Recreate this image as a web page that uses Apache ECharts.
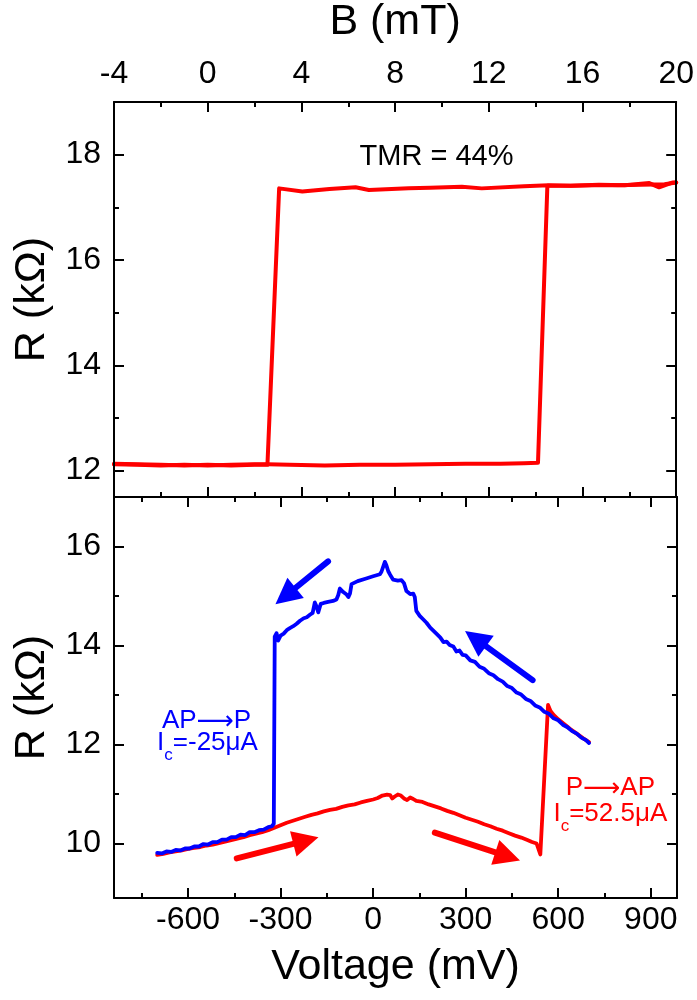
<!DOCTYPE html>
<html>
<head>
<meta charset="utf-8">
<script src="https://cdn.jsdelivr.net/npm/echarts@6/dist/echarts.min.js"></script>
<style>
  html, body { margin: 0; padding: 0; background: #fff; }
  #chart { width: 697px; height: 1000px; }
</style>
</head>
<body>
<div id="chart"></div>
<script>
// ---- Upper panel: resistance loop versus field B (mT) ----
const bUp = [-4, -3, -2, -1, 0, 1, 2, 2.55, 3.5, 5, 6.5, 8, 9.5, 11, 12.5, 13.5, 14.1, 14.5, 15.5, 16.7, 17.8, 18.85, 19.27, 19.83, 20];
const rUp = [12.12, 12.11, 12.10, 12.11, 12.10, 12.11, 12.12, 12.12, 12.11, 12.10, 12.11, 12.11, 12.12, 12.13, 12.13, 12.14, 12.15, 17.41, 17.41, 17.43, 17.42, 17.46, 17.38, 17.47, 17.47];
const bDown = [20, 19.5, 18.5, 17.5, 16.5, 15.5, 14.55, 13.5, 11.7, 10.85, 9.5, 8.58, 6.88, 6.31, 5.2, 4.04, 3.05, 2.55, 2, 1, 0, -1, -2, -3, -4];
const rDown = [17.47, 17.44, 17.43, 17.42, 17.42, 17.41, 17.42, 17.40, 17.36, 17.39, 17.37, 17.36, 17.33, 17.38, 17.35, 17.30, 17.36, 12.11, 12.11, 12.10, 12.11, 12.10, 12.11, 12.12, 12.13];

// ---- Lower panel: resistance versus bias voltage (mV) ----
// P -> AP sweep (increasing voltage)
const vRed = [
  -700, -680, -660, -640, -620, -600, -580, -560, -540, -520,
  -500, -480, -460, -440, -420, -400, -380, -360, -340, -320,
  -300, -280, -260, -240, -220, -200, -180, -160, -140, -120,
  -100, -80, -60, -40, -20, 0, 15, 30, 45, 55,
  62, 70, 80, 90, 100, 110, 120, 130, 140, 160,
  180, 200, 220, 240, 260, 280, 300, 320, 340, 360,
  380, 400, 420, 440, 460, 480, 500, 515, 530, 542,
  567, 575, 585, 600, 620, 640, 660, 680, 700
];
const rRed = [
  9.77, 9.79, 9.82, 9.84, 9.86, 9.89, 9.91, 9.93, 9.96, 9.98,
  10.01, 10.04, 10.07, 10.10, 10.13, 10.17, 10.20, 10.23, 10.27, 10.32,
  10.37, 10.42, 10.46, 10.50, 10.54, 10.58, 10.61, 10.65, 10.68, 10.70,
  10.74, 10.77, 10.79, 10.83, 10.86, 10.89, 10.92, 10.97, 10.99, 10.98,
  10.91, 10.95, 10.99, 10.97, 10.91, 10.88, 10.93, 10.90, 10.86, 10.84,
  10.79, 10.75, 10.71, 10.66, 10.62, 10.57, 10.52, 10.48, 10.44, 10.39,
  10.35, 10.30, 10.26, 10.21, 10.16, 10.12, 10.07, 10.03, 10.00, 9.78,
  12.80, 12.68, 12.60, 12.51, 12.41, 12.31, 12.22, 12.13, 12.05
];
// AP -> P sweep (decreasing voltage)
const vBlue = [
  700, 690, 675, 660, 645, 630, 615, 600, 585, 570,
  555, 540, 525, 510, 495, 480, 465, 450, 435, 420,
  405, 390, 375, 360, 345, 330, 315, 300, 290, 280,
  270, 260, 248, 238, 228, 218, 205, 195, 185, 173,
  162, 151, 145, 140, 135, 130, 120, 108, 100, 92,
  80, 65, 55, 49, 43, 38, 33, 27, 22, 0,
  -25, -50, -70, -75, -80, -86, -97, -108, -113, -119,
  -130, -146, -160, -170, -178, -184, -189, -196, -205, -215,
  -225, -237, -248, -259, -270, -280, -290, -300, -308, -313,
  -316, -319, -322, -328, -340, -355, -370, -385, -400, -415,
  -430, -445, -460, -475, -490, -505, -520, -535, -550, -565,
  -580, -595, -610, -625, -640, -655, -670, -685, -700
];
const rBlue = [
  12.03, 12.09, 12.14, 12.22, 12.27, 12.35, 12.40, 12.49, 12.53, 12.62,
  12.66, 12.75, 12.79, 12.88, 12.92, 13.01, 13.05, 13.14, 13.18, 13.27,
  13.32, 13.40, 13.44, 13.53, 13.57, 13.67, 13.70, 13.80, 13.81, 13.90,
  13.88, 13.98, 14.01, 14.08, 14.07, 14.16, 14.24, 14.30, 14.36, 14.46,
  14.53, 14.60, 14.62, 14.70, 14.98, 15.05, 15.04, 15.10, 15.26, 15.32,
  15.31, 15.33, 15.43, 15.50, 15.62, 15.69, 15.60, 15.49, 15.44, 15.40,
  15.35, 15.30, 15.24, 15.05, 14.98, 15.03, 15.08, 15.15, 15.02, 14.93,
  14.90, 14.88, 14.86, 14.84, 14.67, 14.80, 14.87, 14.66, 14.62, 14.57,
  14.55, 14.50, 14.44, 14.39, 14.35, 14.31, 14.24, 14.20, 14.10, 14.25,
  14.28, 14.18, 10.40, 10.35, 10.33, 10.28, 10.27, 10.23, 10.23, 10.17,
  10.18, 10.13, 10.13, 10.08, 10.08, 10.03, 10.03, 9.98, 9.99, 9.94,
  9.94, 9.90, 9.90, 9.86, 9.87, 9.83, 9.84, 9.80, 9.81
];

// Sweep-direction arrows: [startV, startR, endV, endR]
const blueArrows = [[-146, 15.70, -284, 15.00], [517, 13.30, 332, 14.14]];
const redArrows = [[-442, 9.70, -218, 10.06], [200, 10.22, 436, 9.74]];

// Tick values
const bMajor = [-4, 0, 4, 8, 12, 16, 20];
const bMinor = [-2, 2, 6, 10, 14, 18];
const vMajor = [-600, -300, 0, 300, 600, 900];
const vMinor = [-750, -450, -150, 150, 450, 750];
const rTopMajor = [12, 14, 16, 18];
const rTopMinor = [13, 15, 17];
const rBotMajor = [10, 12, 14, 16];
const rBotMinor = [11, 13, 15];

const FONT = '"Liberation Sans", Arial, Helvetica, sans-serif';
const ARROW_FONT = '"DejaVu Sans", sans-serif';
const RED = '#ff0000';
const BLUE = '#0000ff';

function pairs(xs, ys) { return xs.map((x, i) => [x, ys[i]]); }

// One side of a frame: a labelled/major-tick axis plus a minor-tick axis
function axisSide(o) {
  const base = {
    type: 'value', gridIndex: o.grid, position: o.pos, min: o.min, max: o.max,
    splitLine: { show: false }, silent: true, z: 5
  };
  const major = Object.assign({}, base, {
    axisLine: { show: true, onZero: false, lineStyle: { color: '#000', width: 2 } },
    axisTick: { show: true, inside: true, length: 10, lineStyle: { color: '#000', width: 2 }, customValues: o.major },
    axisLabel: {
      show: !!o.labels, customValues: o.major, color: '#000',
      fontFamily: FONT, fontSize: 32, margin: o.margin || 12
    }
  });
  if (o.name) {
    major.name = o.name;
    major.nameLocation = 'middle';
    major.nameGap = o.nameGap;
    major.nameTextStyle = { fontFamily: FONT, fontSize: 43, color: '#000' };
  }
  const minor = Object.assign({}, base, {
    axisLine: { show: false, onZero: false },
    axisTick: { show: true, inside: true, length: 5, lineStyle: { color: '#000', width: 2 }, customValues: o.minor },
    axisLabel: { show: false }
  });
  return [major, minor];
}

const B_MIN = -4, B_MAX = 20;
const V_MIN = -840, V_MAX = 985;
const RT_MIN = 11.5, RT_MAX = 19;
const RB_MIN = 8.9, RB_MAX = 17;

const xAxes = [].concat(
  axisSide({ grid: 0, pos: 'top', min: B_MIN, max: B_MAX, major: bMajor, minor: bMinor, labels: true, margin: 12, name: 'B (mT)', nameGap: 58 }),
  axisSide({ grid: 0, pos: 'bottom', min: B_MIN, max: B_MAX, major: bMajor, minor: bMinor }),
  axisSide({ grid: 1, pos: 'bottom', min: V_MIN, max: V_MAX, major: vMajor, minor: vMinor, labels: true, margin: 6, name: 'Voltage (mV)', nameGap: 48 }),
  axisSide({ grid: 1, pos: 'top', min: V_MIN, max: V_MAX, major: vMajor, minor: vMinor })
);
const yAxes = [].concat(
  axisSide({ grid: 0, pos: 'left', min: RT_MIN, max: RT_MAX, major: rTopMajor, minor: rTopMinor, labels: true, margin: 13, name: 'R (kΩ)', nameGap: 60 }),
  axisSide({ grid: 0, pos: 'right', min: RT_MIN, max: RT_MAX, major: rTopMajor, minor: rTopMinor }),
  axisSide({ grid: 1, pos: 'left', min: RB_MIN, max: RB_MAX, major: rBotMajor, minor: rBotMinor, labels: true, margin: 13, name: 'R (kΩ)', nameGap: 60 }),
  axisSide({ grid: 1, pos: 'right', min: RB_MIN, max: RB_MAX, major: rBotMajor, minor: rBotMinor })
);

function curve(name, xi, yi, data, color, width) {
  return {
    name, type: 'line', xAxisIndex: xi, yAxisIndex: yi, data,
    showSymbol: false, symbol: 'none', smooth: false,
    lineStyle: { color, width, join: 'round', cap: 'round' },
    emphasis: { disabled: true }, silent: true, z: 3
  };
}

function arrowLines(list, color) {
  return {
    silent: true, symbol: ['none', 'triangle'], symbolSize: 26,
    label: { show: false }, emphasis: { disabled: true },
    itemStyle: { color },
    lineStyle: { color, width: 6, type: 'solid', cap: 'round', opacity: 1 },
    data: list.map(a => [{ coord: [a[0], a[1]] }, { coord: [a[2], a[3]] }])
  };
}

const redBias = curve('P→AP', 4, 4, pairs(vRed, rRed), RED, 3.8);
redBias.markLine = arrowLines(redArrows, RED);
const blueBias = curve('AP→P', 4, 4, pairs(vBlue, rBlue), BLUE, 3.8);
blueBias.markLine = arrowLines(blueArrows, BLUE);

const option = {
  animation: false,
  backgroundColor: '#fff',
  grid: [
    { left: 114, top: 102, width: 563, height: 395 },
    { left: 114, top: 497, width: 563, height: 401 }
  ],
  xAxis: xAxes,
  yAxis: yAxes,
  series: [
    curve('sweep up', 0, 0, pairs(bUp, rUp), RED, 4),
    curve('sweep down', 0, 0, pairs(bDown, rDown), RED, 4),
    redBias,
    blueBias
  ]
};

const chart = echarts.init(document.getElementById('chart'), null, { renderer: 'canvas' });
chart.setOption(option);

// ---- Annotations, anchored at data coordinates of each panel ----
const measureCtx = document.createElement('canvas').getContext('2d');
function textWidth(str, size, family) {
  measureCtx.font = size + 'px ' + family;
  return measureCtx.measureText(str).width;
}

// pieces: [{t, size, family, dy}] laid out left to right, centred on the anchor
function textRun(seriesIndex, at, pieces, color) {
  const p = chart.convertToPixel({ seriesIndex }, at);
  const widths = pieces.map(pc => textWidth(pc.t, pc.size, pc.family || FONT));
  const total = widths.reduce((a, b) => a + b, 0);
  let x = p[0] - total / 2;
  return pieces.map((pc, i) => {
    const el = {
      type: 'text', silent: true, z: 20, x: x, y: p[1] + (pc.dy || 0),
      style: {
        text: pc.t, fontSize: pc.size, fontFamily: pc.family || FONT,
        fill: color, align: 'left', verticalAlign: 'middle'
      }
    };
    x += widths[i];
    return el;
  });
}

const graphics = [].concat(
  textRun(0, [9.77, 17.96], [{ t: 'TMR = 44%', size: 29 }], '#000'),
  textRun(2, [-540, 12.48], [{ t: 'AP', size: 26 }, { t: '⟶', size: 26, family: ARROW_FONT, dy: 1 }, { t: 'P', size: 26 }], BLUE),
  textRun(2, [-537, 12.04], [{ t: 'I', size: 26 }, { t: 'c', size: 17, dy: 12.7 }, { t: '=-25μA', size: 26 }], BLUE),
  textRun(2, [769, 11.12], [{ t: 'P', size: 26 }, { t: '⟶', size: 26, family: ARROW_FONT, dy: 1 }, { t: 'AP', size: 26 }], RED),
  textRun(2, [769, 10.60], [{ t: 'I', size: 26 }, { t: 'c', size: 17, dy: 12.7 }, { t: '=52.5μA', size: 26 }], RED)
);
chart.setOption({ graphic: { elements: graphics } });
</script>
</body>
</html>
